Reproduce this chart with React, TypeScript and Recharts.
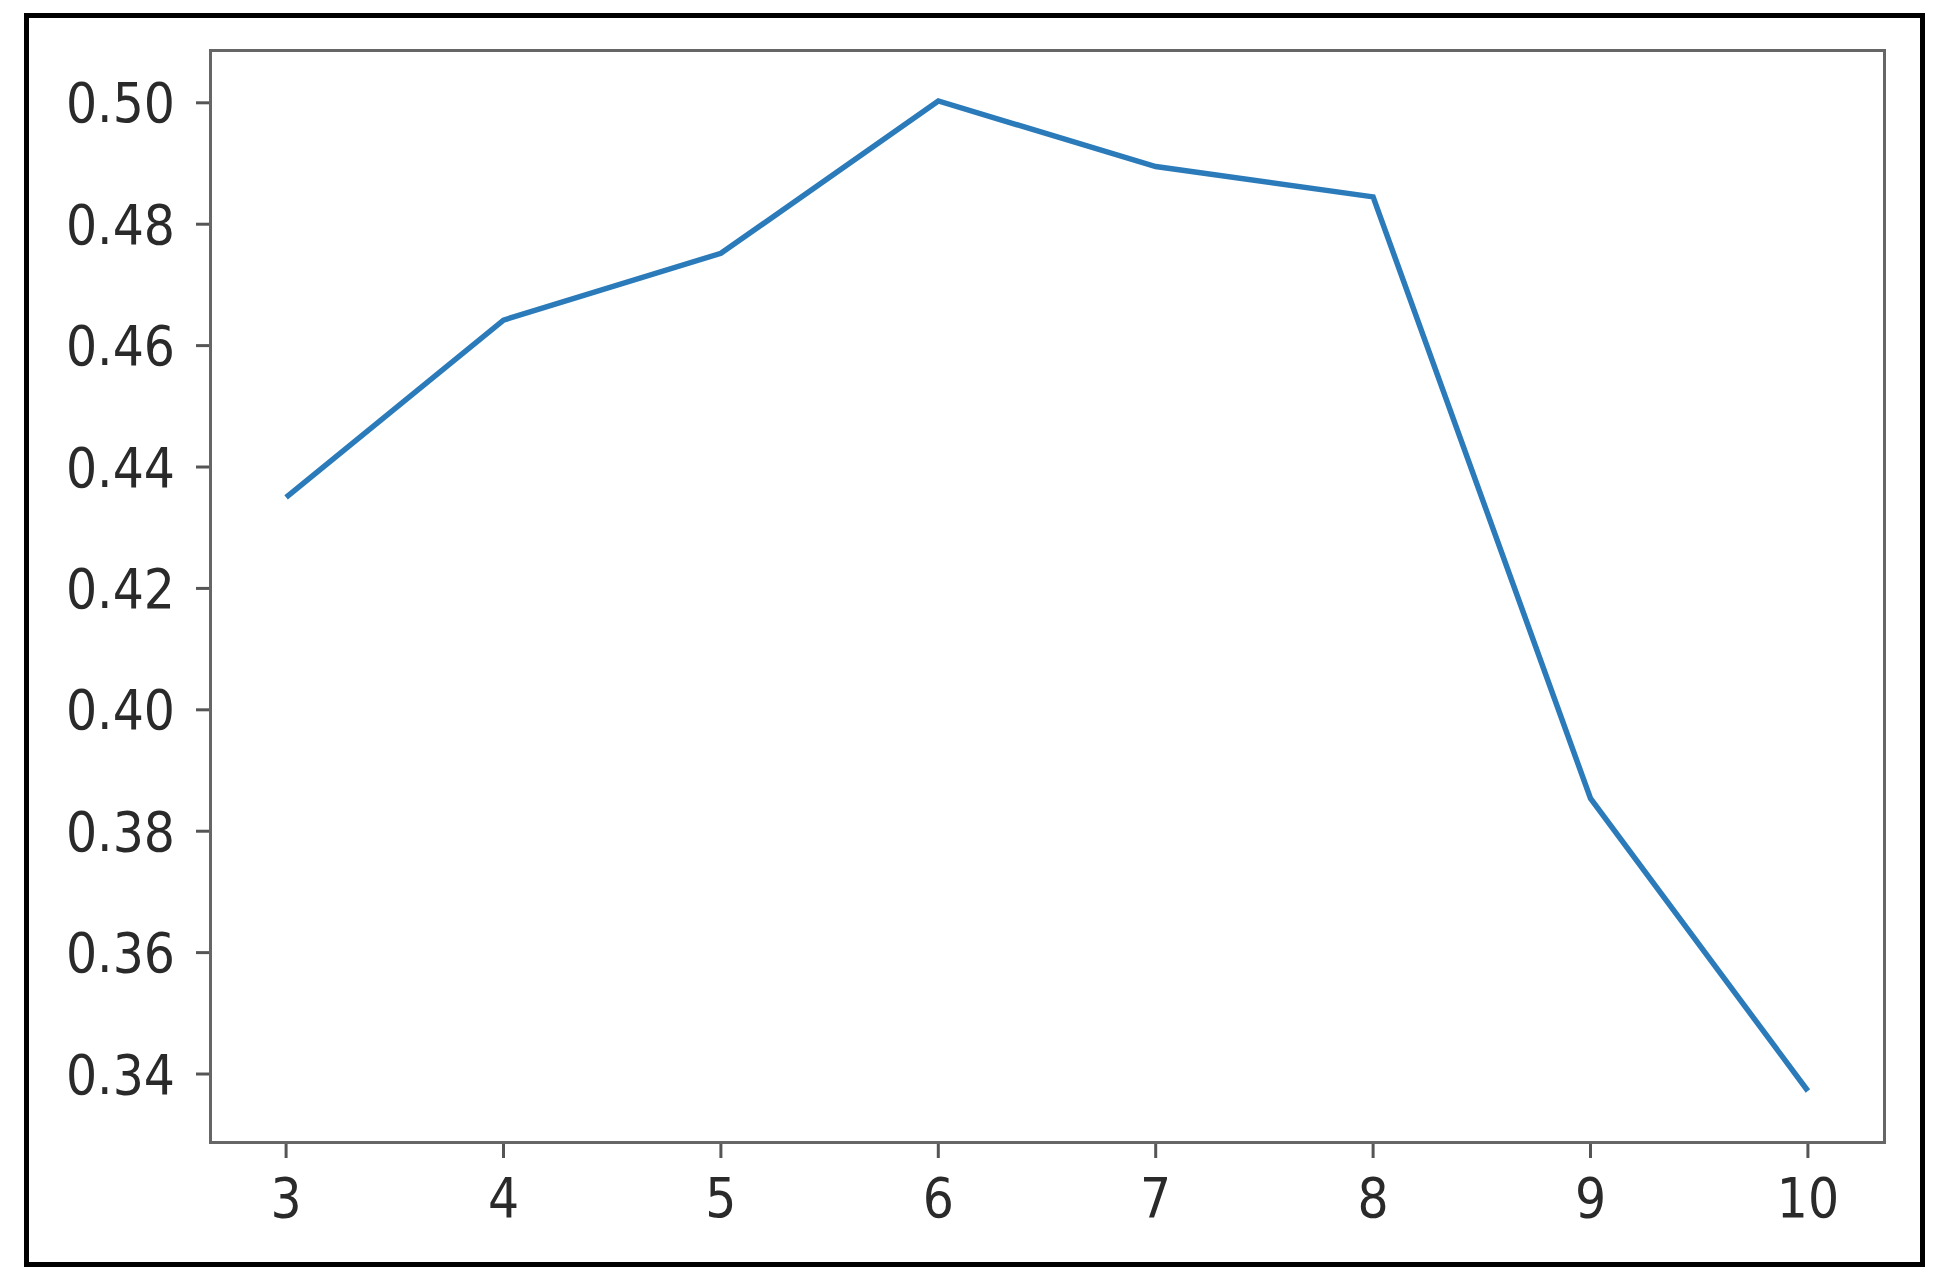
import { LineChart, Line, XAxis, YAxis } from "recharts";

const xValues = [3, 4, 5, 6, 7, 8, 9, 10];
const yValues = [0.435, 0.4642, 0.4752, 0.5003, 0.4895, 0.4845, 0.3854, 0.3372];
const xTicks = [3, 4, 5, 6, 7, 8, 9, 10];
const yTicks = [0.34, 0.36, 0.38, 0.4, 0.42, 0.44, 0.46, 0.48, 0.5];

const data = xValues.map((x, i) => ({ x, y: yValues[i] }));

// matplotlib-ish tick text, slightly stretched vertically like the source image
const StretchedTick = (props: any) => {
  const { x, y, payload, textAnchor, dy, fmt } = props;
  const label = fmt ? fmt(payload.value) : String(payload.value);
  return (
    <g transform={`translate(${x},${y}) scale(1,1.13)`}>
      <text
        x={0}
        y={0}
        dy={dy}
        textAnchor={textAnchor}
        fill="#2a2a2a"
        fontSize={49}
        fontFamily="DejaVu Sans, sans-serif"
      >
        {label}
      </text>
    </g>
  );
};

export default function App() {
  return (
    <div style={{ position: "absolute", left: 0, top: 0, width: 1945, height: 1286, background: "#fff" }}>
      <div
        style={{
          position: "absolute",
          left: 24,
          top: 13,
          width: 1901,
          height: 1254,
          border: "5px solid #000",
          boxSizing: "border-box",
        }}
      />
      <LineChart
        width={1945}
        height={1286}
        data={data}
        margin={{ top: 50, right: 61, left: 60, bottom: 44 }}
        style={{ position: "absolute", left: 0, top: 0 }}
      >
        <XAxis
          dataKey="x"
          type="number"
          domain={[2.65, 10.35]}
          ticks={xTicks}
          allowDataOverflow
          height={100}
          tick={<StretchedTick textAnchor="middle" dy="0.71em" />}
          tickSize={16}
          tickMargin={20}
          axisLine={false}
          tickLine={{ stroke: "#555", strokeWidth: 3 }}
        />
        <YAxis
          type="number"
          domain={[0.3288, 0.5087]}
          ticks={yTicks}
          allowDataOverflow
          width={150}
          tick={<StretchedTick textAnchor="end" dy="0.355em" fmt={(v: number) => v.toFixed(2)} />}
          tickSize={14}
          tickMargin={21}
          axisLine={false}
          tickLine={{ stroke: "#555", strokeWidth: 3 }}
        />
        <Line
          dataKey="y"
          type="linear"
          stroke="#2b7bba"
          strokeWidth={5.5}
          dot={false}
          isAnimationActive={false}
        />
      </LineChart>
      <div
        style={{
          position: "absolute",
          left: 209,
          top: 49,
          width: 1677,
          height: 1095,
          border: "3px solid #666",
          boxSizing: "border-box",
          pointerEvents: "none",
        }}
      />
    </div>
  );
}
